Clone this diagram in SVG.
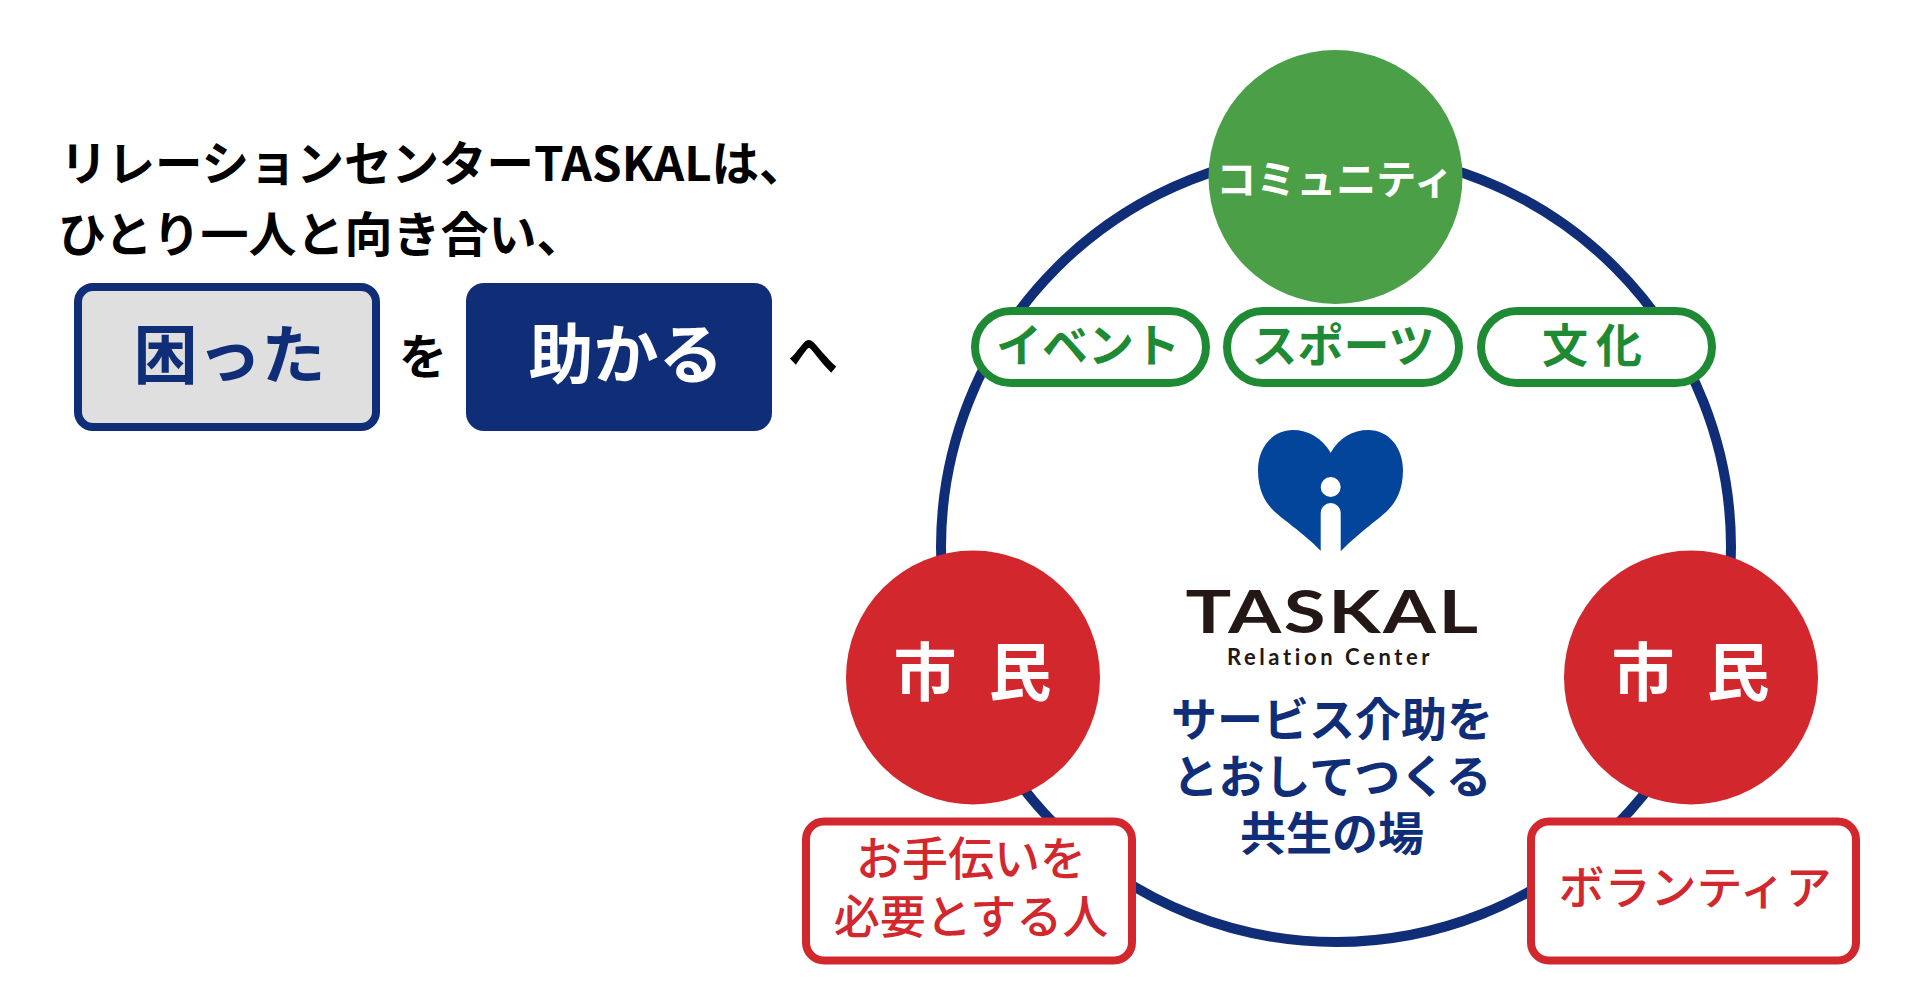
<svg xmlns="http://www.w3.org/2000/svg" width="1920" height="1000" viewBox="0 0 1920 1000">
<style>
text{font-family:"Noto Sans CJK JP","Noto Sans",sans-serif;text-anchor:middle}
.b{font-weight:700}.m{font-weight:500}
.k{fill:#000}.n{fill:#102d78}.g{fill:#1e8b34}.r{fill:#d2282d}.w{fill:#fff}
.pill{fill:#fff;stroke:#1e8b34;stroke-width:8}
.box{fill:#fff;stroke:#d2282d;stroke-width:8}
.cr{fill:#d2282d}
</style>
<rect width="1920" height="1000" fill="#fff"/>
<g id="connectors"><circle cx="1336" cy="547" r="395" fill="none" stroke="#102d78" stroke-width="10"/></g>
<g id="intro">
<text class="b k" x="60" y="181" font-size="47.5" style="text-anchor:start">リレーションセンターTASKALは、</text>
<text class="b k" x="58" y="252" font-size="48" style="text-anchor:start">ひとり一人と向き合い、</text>
<text class="b k" x="423" y="374" font-size="48">を</text>
<text class="b k" x="813" y="373" font-size="50">へ</text>
</g>
<g id="node-komatta"><rect x="78" y="287" width="298" height="140" rx="15" fill="#dfdfdf" stroke="#102d78" stroke-width="8"/><text class="b n" x="229.5" y="378" font-size="64">困った</text></g>
<g id="node-tasukaru"><rect x="466" y="283" width="306" height="148" rx="18" fill="#102d78"/><text class="b w" x="626" y="378" font-size="65">助かる</text></g>
<g id="node-community"><circle cx="1335.5" cy="177" r="127" fill="#4ba047"/><text class="b w" x="1335" y="194" font-size="40">コミュニティ</text></g>
<g id="node-event"><rect x="975" y="311" width="231" height="72" rx="36" class="pill"/><text class="b g" x="1088" y="362" font-size="46">イベント</text></g>
<g id="node-sports"><rect x="1227" y="311" width="232" height="72" rx="36" class="pill"/><text class="b g" x="1343" y="362" font-size="46">スポーツ</text></g>
<g id="node-culture"><rect x="1481" y="311" width="231" height="72" rx="36" class="pill"/><text class="b g" x="1596" y="362" font-size="46" letter-spacing="8">文化</text></g>
<g id="node-logo">
<path d="M1330.7 452.7C1322 438 1308 430 1293 430C1272 430 1258 448 1258 470C1258 490 1265 502 1273 510C1283 520 1300 530 1321 551L1341 551C1362 530 1378 520 1388 510C1396 502 1403 490 1403 470C1403 448 1389 430 1368 430C1353 430 1339 438 1330.7 452.7Z" fill="#03459a"/>
<circle cx="1330.7" cy="487" r="10" fill="#fff"/>
<path d="M1320.7 553V513A10 10 0 0 1 1340.7 513V553Z" fill="#fff"/>
<text x="0" y="0" transform="translate(1333 633) scale(1.27 1)" font-size="60" font-weight="700" letter-spacing="2" style="font-family:'Lato','Noto Sans',sans-serif" fill="#231815">TASKAL</text>
<text x="1330" y="665" font-size="22" font-weight="700" letter-spacing="3.6" style="font-family:'Lato','Noto Sans',sans-serif" fill="#231815">Relation Center</text>
<text class="b n" x="1332" y="736" font-size="46">サービス介助を</text>
<text class="b n" x="1332" y="793" font-size="46">とおしてつくる</text>
<text class="b n" x="1332" y="850" font-size="46">共生の場</text>
</g>
<g id="node-citizen-left"><circle cx="973" cy="677.5" r="127" class="cr"/><text class="b w" x="925" y="695" font-size="63">市</text><text class="b w" x="1020" y="695" font-size="63">民</text></g>
<g id="node-citizen-right"><circle cx="1691" cy="677.5" r="127" class="cr"/><text class="b w" x="1643" y="695" font-size="63">市</text><text class="b w" x="1738" y="695" font-size="63">民</text></g>
<g id="node-need-help"><rect x="806" y="821.5" width="326" height="139" rx="18" class="box"/><text class="m r" x="971" y="875" font-size="46">お手伝いを</text><text class="m r" x="971" y="933" font-size="46">必要とする人</text></g>
<g id="node-volunteer"><rect x="1531" y="821.5" width="325" height="139" rx="18" class="box"/><text class="m r" x="1695" y="904" font-size="46">ボランティア</text></g>
</svg>
